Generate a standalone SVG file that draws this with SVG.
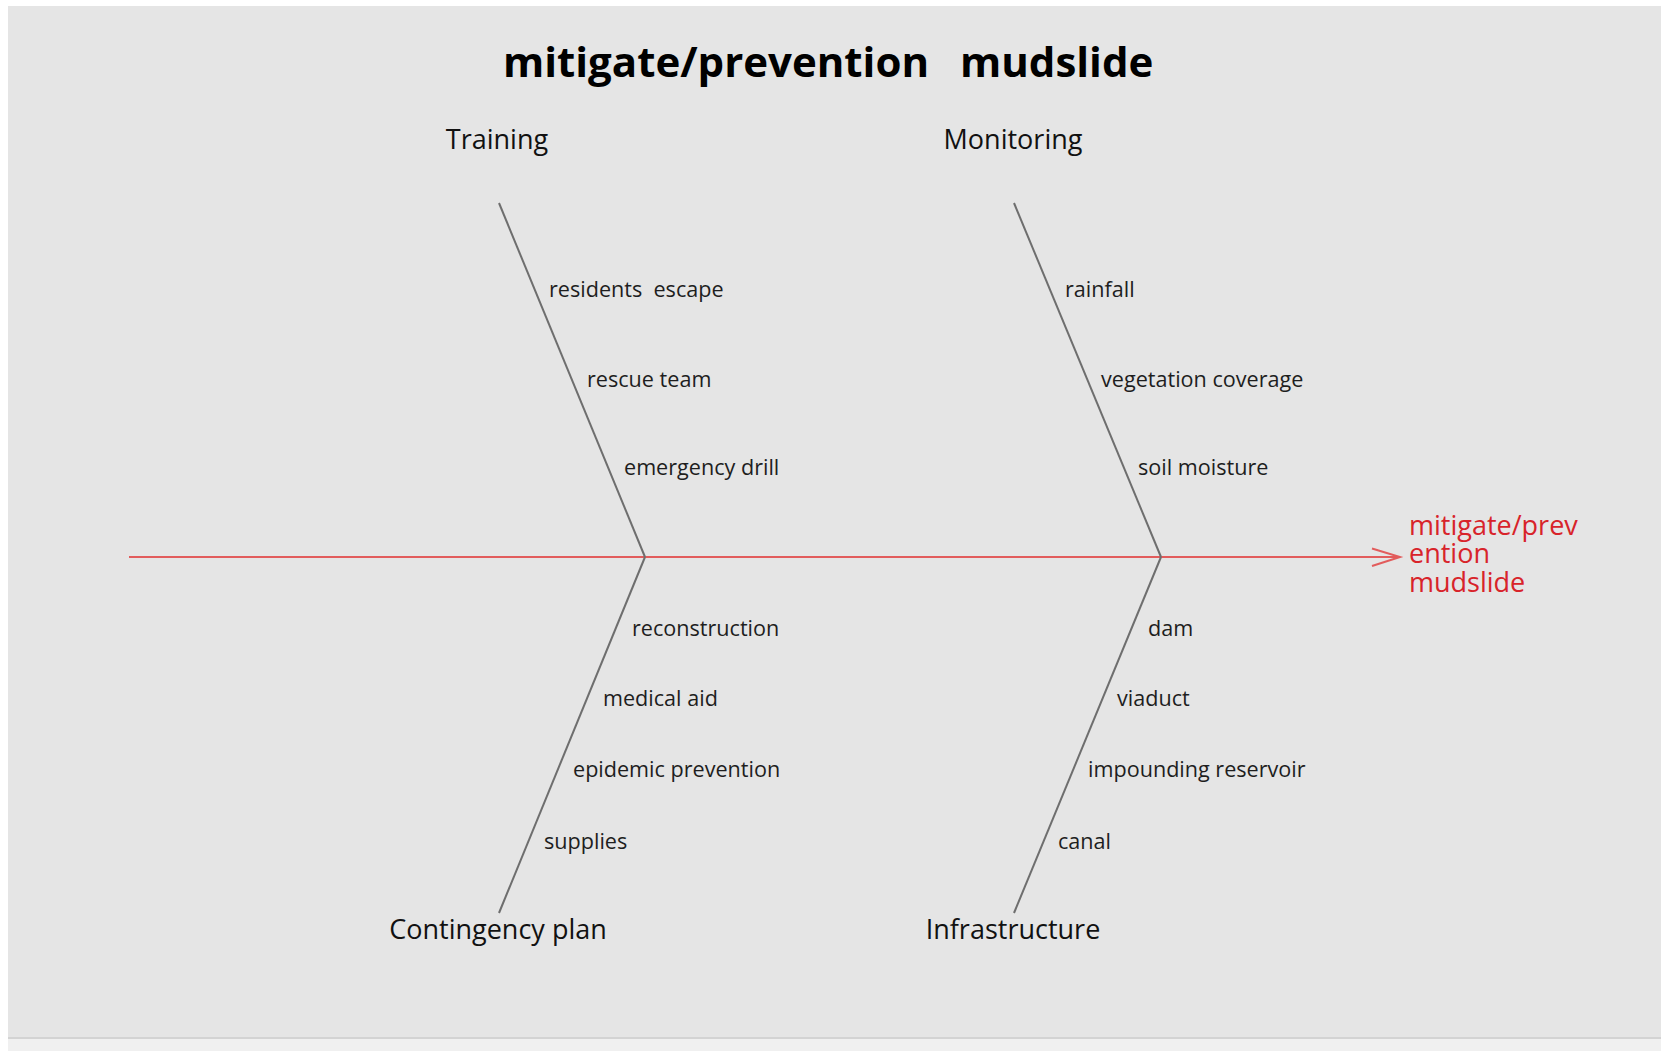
<svg xmlns="http://www.w3.org/2000/svg" width="1661" height="1051" viewBox="0 0 1661 1051">
<style>
.title{font-family:"Open Sans","Noto Sans",sans-serif;font-weight:bold;font-size:42px;fill:#000}
.cat{font-family:"Open Sans","Noto Sans",sans-serif;font-size:27px;fill:#111;text-anchor:middle}
.item{font-family:"Open Sans","Noto Sans",sans-serif;font-size:21.6px;fill:#1e1e1e}
.head{font-family:"Open Sans","Noto Sans",sans-serif;font-size:27px;fill:#d8232a}
.bone{stroke:#6e6e6e;stroke-width:2;fill:none}
.spine{stroke:#e25c5c;stroke-width:2;fill:none}
</style>
<rect x="0" y="0" width="1661" height="1051" fill="#ffffff"/>
<rect x="8" y="6" width="1653" height="1031" fill="#e5e5e5"/>
<rect x="8" y="1037" width="1653" height="2" fill="#d3d3d3"/>
<rect x="8" y="1039" width="1653" height="12" fill="#f0f0f0"/>
<text class="title" x="503" y="77">mitigate/prevention<tspan x="960">mudslide</tspan></text>
<g id="connectors">
<line class="spine" x1="129" y1="557" x2="1400" y2="557"/>
<polyline class="spine" points="1372,548.5 1400,557 1372,566"/>
<line class="bone" x1="499" y1="203" x2="645" y2="557"/>
<line class="bone" x1="645" y1="557" x2="499" y2="913"/>
<line class="bone" x1="1014" y1="203" x2="1161" y2="557"/>
<line class="bone" x1="1161" y1="557" x2="1014" y2="913"/>
</g>
<g id="head">
<text class="head" x="1409" y="535">mitigate/prev</text>
<text class="head" x="1409" y="563">ention</text>
<text class="head" x="1409" y="592">mudslide</text>
</g>
<g id="training">
<text class="cat" x="497" y="149">Training</text>
<text class="item" x="549" y="297" xml:space="preserve">residents  escape</text>
<text class="item" x="587" y="387">rescue team</text>
<text class="item" x="624" y="475">emergency drill</text>
</g>
<g id="monitoring">
<text class="cat" x="1013" y="149">Monitoring</text>
<text class="item" x="1065" y="297">rainfall</text>
<text class="item" x="1101" y="387">vegetation coverage</text>
<text class="item" x="1138" y="475">soil moisture</text>
</g>
<g id="contingency">
<text class="cat" x="498" y="939">Contingency plan</text>
<text class="item" x="632" y="636">reconstruction</text>
<text class="item" x="603" y="706">medical aid</text>
<text class="item" x="573" y="777">epidemic prevention</text>
<text class="item" x="544" y="849">supplies</text>
</g>
<g id="infrastructure">
<text class="cat" x="1013" y="939">Infrastructure</text>
<text class="item" x="1148" y="636">dam</text>
<text class="item" x="1117" y="706">viaduct</text>
<text class="item" x="1088" y="777">impounding reservoir</text>
<text class="item" x="1058" y="849">canal</text>
</g>
</svg>
